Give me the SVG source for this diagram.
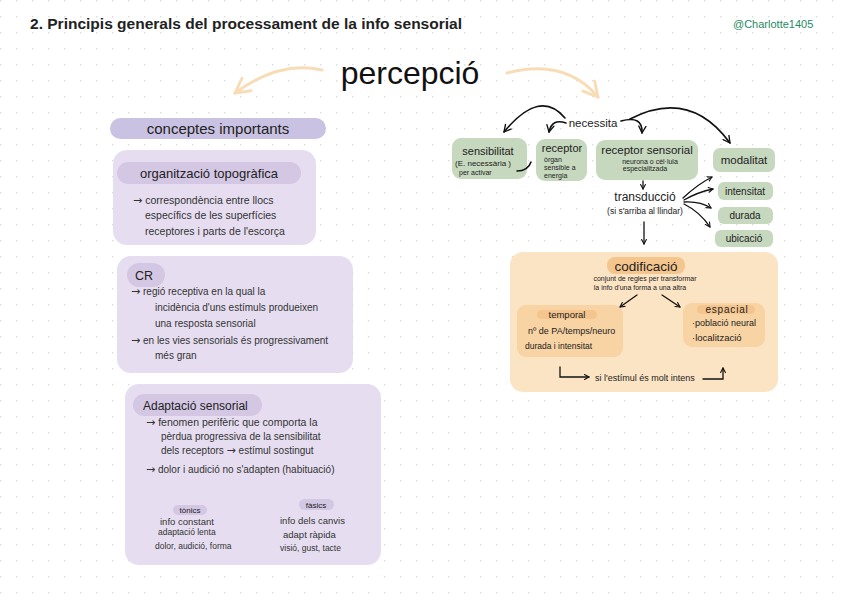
<svg xmlns="http://www.w3.org/2000/svg" width="848" height="599" viewBox="0 0 848 599">
<defs>
<pattern id="grid" x="0" y="0" width="16" height="16" patternUnits="userSpaceOnUse"><rect x="0" y="0" width="1.4" height="1.4" fill="#dcdcdc"/></pattern>
<marker id="ah" viewBox="0 0 10 10" refX="8.5" refY="5" markerWidth="9" markerHeight="9" orient="auto" markerUnits="userSpaceOnUse"><path d="M1 1 L8.5 5 L1 9" fill="none" stroke="#111" stroke-width="1.5" stroke-linecap="round" stroke-linejoin="round"/></marker>
<marker id="ahs" viewBox="0 0 10 10" refX="8.5" refY="5" markerWidth="6" markerHeight="6" orient="auto" markerUnits="userSpaceOnUse"><path d="M1 1 L8.5 5 L1 9" fill="none" stroke="#111" stroke-width="1.8" stroke-linecap="round" stroke-linejoin="round"/></marker>
<marker id="aho" viewBox="0 0 10 10" refX="8" refY="5" markerWidth="22" markerHeight="22" orient="auto" markerUnits="userSpaceOnUse"><path d="M1.5 1.5 L8 5 L1.5 8.5" fill="none" stroke="#f8dcb5" stroke-width="1.3" stroke-linecap="round" stroke-linejoin="round"/></marker>
<style>
text{font-family:"Liberation Sans",Arial,sans-serif;fill:#222}
.t{fill:#333}
.ar{font-family:"DejaVu Sans",sans-serif;font-size:11px}
.lav{fill:#e6def0}
.lavp{fill:#d4c7e4}
.grn{fill:#c6d8be}
.org{fill:#fbe4c4}
.orgi{fill:#f8d3a4}
.orgp{fill:#f5c58e}
.c{text-anchor:middle}
.ln{fill:none;stroke:#111;stroke-width:1.6;stroke-linecap:round}
.sm{stroke-width:1.3}
</style>
</defs>
<rect width="848" height="599" fill="#ffffff"/>
<rect width="848" height="599" fill="url(#grid)"/>

<g id="header">
<text x="30" y="29" font-size="14" font-weight="bold" fill="#111" textLength="432" lengthAdjust="spacingAndGlyphs">2. Principis generals del processament de la info sensorial</text>
<text x="733" y="28" font-size="11" style="fill:#1f8a63">@Charlotte1405</text>
</g>

<g id="percepcio">
<text x="410" y="84" class="c" font-size="32" style="fill:#111">percepció</text>
</g>

<g id="conceptes">
<rect x="110" y="118" width="216" height="21" rx="10.5" fill="#c9c2e2"/>
<text x="218" y="134" class="c" font-size="15">conceptes importants</text>
</g>

<g id="organitzacio">
<rect x="113" y="150" width="203" height="95" rx="14" class="lav"/>
<rect x="117" y="162" width="184" height="22" rx="11" class="lavp"/>
<text x="209" y="178" class="c" font-size="13">organització topogràfica</text>
<text x="133" y="204" font-size="10.5" class="t"><tspan class="ar">→</tspan> correspondència entre llocs</text>
<text x="145" y="219" font-size="10.5" class="t">específics de les superfícies</text>
<text x="145" y="235" font-size="10.5" class="t">receptores i parts de l'escorça</text>
</g>

<g id="cr">
<rect x="117" y="256" width="236" height="117" rx="14" class="lav"/>
<rect x="127" y="263" width="38" height="24" rx="12" class="lavp"/>
<text x="135" y="280" font-size="12.5">CR</text>
<text x="131" y="295" font-size="10" class="t"><tspan class="ar">→</tspan> regió receptiva en la qual la</text>
<text x="155" y="311" font-size="10" class="t">incidència d'uns estímuls produeixen</text>
<text x="155" y="327" font-size="10" class="t">una resposta sensorial</text>
<text x="131" y="344" font-size="10" class="t"><tspan class="ar">→</tspan> en les vies sensorials és progressivament</text>
<text x="155" y="359" font-size="10" class="t">més gran</text>
</g>

<g id="adaptacio">
<rect x="125" y="384" width="256" height="181" rx="14" class="lav"/>
<rect x="133" y="394" width="129" height="22" rx="11" class="lavp"/>
<text x="143" y="410" font-size="12">Adaptació sensorial</text>
<text x="146" y="426" font-size="10.5" class="t"><tspan class="ar">→</tspan> fenomen perifèric que comporta la</text>
<text x="161" y="440" font-size="10" class="t">pèrdua progressiva de la sensibilitat</text>
<text x="161" y="454" font-size="10" class="t">dels receptors <tspan class="ar">→</tspan> estímul sostingut</text>
<text x="146" y="473" font-size="10" class="t"><tspan class="ar">→</tspan> dolor i audició no s'adapten (habituació)</text>
<rect x="173" y="505" width="34" height="10" rx="5" class="lavp"/>
<text x="190" y="513" class="c" font-size="8">tònics</text>
<text x="160" y="525" font-size="9.5" class="t">info constant</text>
<text x="158" y="535" font-size="8.5" class="t">adaptació lenta</text>
<text x="155" y="549" font-size="8.5" class="t">dolor, audició, forma</text>
<rect x="299" y="499" width="35" height="11" rx="5.5" class="lavp"/>
<text x="316" y="508" class="c" font-size="8">fàsics</text>
<text x="280" y="524" font-size="9.5" class="t">info dels canvis</text>
<text x="283" y="538" font-size="9.5" class="t">adapt ràpida</text>
<text x="280" y="551" font-size="8.5" class="t">visió, gust, tacte</text>
</g>

<g id="necessita">
<text x="593" y="127" class="c" font-size="11.5">necessita</text>
</g>

<g id="sensibilitat">
<rect x="452" y="138" width="75" height="41" rx="9" class="grn"/>
<text x="488" y="155" class="c" font-size="11">sensibilitat</text>
<text x="455" y="166" font-size="8">(E. necessària )</text>
<text x="459" y="175" font-size="7">per activar</text>
</g>

<g id="receptor">
<rect x="536" y="139" width="51" height="42" rx="9" class="grn"/>
<text x="562" y="152" class="c" font-size="11">receptor</text>
<text x="544" y="162" font-size="7">òrgan</text>
<text x="544" y="170" font-size="7">sensible a</text>
<text x="544" y="178" font-size="7">energia</text>
</g>

<g id="receptor-sensorial">
<rect x="596" y="140" width="102" height="40" rx="9" class="grn"/>
<text x="647" y="154" class="c" font-size="11.5">receptor sensorial</text>
<text x="650" y="164" class="c" font-size="7">neurona o cèl·lula</text>
<text x="645" y="171" class="c" font-size="7">especialitzada</text>
</g>

<g id="transduccio">
<text x="645" y="201" class="c" font-size="12">transducció</text>
<text x="645" y="214" class="c" font-size="8.5">(si s'arriba al llindar)</text>
</g>

<g id="modalitat">
<rect x="713" y="148" width="62" height="24" rx="7" class="grn"/>
<text x="744" y="164" class="c" font-size="11.5">modalitat</text>
</g>
<g id="intensitat">
<rect x="718" y="182" width="55" height="18" rx="6" class="grn"/>
<text x="745" y="195" class="c" font-size="10">intensitat</text>
</g>
<g id="durada">
<rect x="718" y="207" width="55" height="17" rx="6" class="grn"/>
<text x="745" y="219" class="c" font-size="10">durada</text>
</g>
<g id="ubicacio">
<rect x="715" y="230" width="58" height="17" rx="6" class="grn"/>
<text x="744" y="242" class="c" font-size="10">ubicació</text>
</g>

<g id="codificacio">
<rect x="510" y="252" width="268" height="140" rx="13" class="org"/>
<rect x="607" y="257" width="78" height="17" rx="8" class="orgp"/>
<text x="646" y="271" class="c" font-size="13.5">codificació</text>
<text x="645" y="281" class="c" font-size="7">conjunt de regles per transformar</text>
<text x="640" y="289.5" class="c" font-size="7">la info d'una forma a una altra</text>
<text x="645" y="381" class="c" font-size="9">si l'estímul és molt intens</text>
</g>

<g id="temporal">
<rect x="517" y="305" width="106" height="52" rx="9" class="orgi"/>
<rect x="537" y="310" width="60" height="9" rx="4.5" class="orgp"/>
<text x="567" y="318" class="c" font-size="9.5">temporal</text>
<text x="528" y="334" font-size="9">nº de PA/temps/neuro</text>
<text x="525" y="349" font-size="8.5">durada i intensitat</text>
</g>

<g id="espacial">
<rect x="683" y="303" width="82" height="44" rx="9" class="orgi"/>
<rect x="697" y="305" width="58" height="9" rx="4.5" class="orgp"/>
<text x="727" y="313" class="c" font-size="10" letter-spacing="0.8">espacial</text>
<text x="692" y="326" font-size="9">·població neural</text>
<text x="692" y="341" font-size="9.5">·localització</text>
</g>

<g id="connectors">
<path d="M322 70 Q280 60 235 93" fill="none" stroke="#f8dcb5" stroke-width="3" stroke-linecap="round" marker-end="url(#aho)"/>
<path d="M507 73 Q565 58 598 97" fill="none" stroke="#f8dcb5" stroke-width="3" stroke-linecap="round" marker-end="url(#aho)"/>
<path class="ln" d="M565 118 Q540 88 504 132" marker-end="url(#ah)"/>
<path class="ln" d="M566 123 Q552 118 549 132" marker-end="url(#ah)"/>
<path class="ln" d="M621 121 Q643 115 642 133" marker-end="url(#ah)"/>
<path class="ln" d="M630 119 Q690 88 730 143" marker-end="url(#ah)"/>
<path class="ln" d="M517 171 Q528 171 531 162"/>
<path class="ln sm" d="M643 181 L643 189" marker-end="url(#ahs)"/>
<path class="ln sm" d="M683 198 Q698 184 712 177" marker-end="url(#ahs)"/>
<path class="ln sm" d="M684 200 Q698 192 713 189" marker-end="url(#ahs)"/>
<path class="ln sm" d="M684 202 Q700 201 711 208" marker-end="url(#ahs)"/>
<path class="ln sm" d="M684 204 Q700 212 710 227" marker-end="url(#ahs)"/>
<path class="ln sm" d="M644 222 L644 244" marker-end="url(#ahs)"/>
<path class="ln sm" d="M637 295 L620 307" marker-end="url(#ahs)"/>
<path class="ln sm" d="M662 295 L680 307" marker-end="url(#ahs)"/>
<path class="ln sm" d="M560 367 L560 377 L589 377" marker-end="url(#ahs)"/>
<path class="ln sm" d="M703 379 L723 379 L723 368" marker-end="url(#ahs)"/>
</g>
</svg>
